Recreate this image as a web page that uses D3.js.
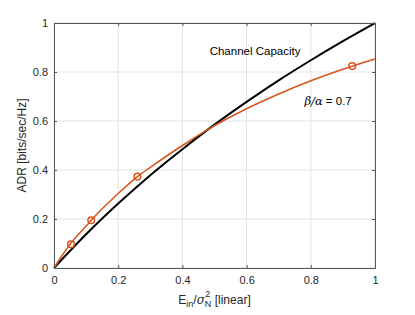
<!DOCTYPE html>
<html lang="en">
<head>
<meta charset="utf-8" />
<title>ADR vs channel capacity</title>
<style>
  body { margin: 0; background: #fff; }
  text { font-family: "Liberation Sans", Arial, sans-serif; }
</style>
<script src="https://cdn.jsdelivr.net/npm/d3@7"></script>
</head>
<body>
<script>
  // values
  var capX = [0, 0.1, 0.2, 0.3, 0.4, 0.5, 0.6, 0.7, 0.8, 0.9, 1];
  var capY = [0, 0.1375, 0.263, 0.379, 0.485, 0.585, 0.678, 0.766, 0.848, 0.926, 1];

  var adrX = [0, 0.05, 0.1, 0.116, 0.2, 0.26, 0.3, 0.4, 0.48, 0.6, 0.7, 0.8, 0.9, 0.93, 1];
  var adrY = [0, 0.097, 0.171, 0.195, 0.304, 0.373, 0.411, 0.5, 0.566, 0.65, 0.71, 0.764, 0.811, 0.824, 0.853];

  var markX = [0.053, 0.116, 0.26, 0.929];
  var markY = [0.097, 0.195, 0.373, 0.824];

  var ticks = [0, 0.2, 0.4, 0.6, 0.8, 1];
  var orange = "#D95319";

  const margin = {left: 54, right: 40, top: 23, bottom: 47};
  let width = 415 - margin.left - margin.right;
  let height = 315 - margin.top - margin.bottom;

  var svg = d3.select("body").append("svg")
      .attr("width", 415)
      .attr("height", 315);

  let plot = svg.append("g")
      .attr("transform", `translate(${margin.left}, ${margin.top})`);

  let x = d3.scaleLinear([0, 1], [0, width]);
  let y = d3.scaleLinear([0, 1], [height, 0]);

  // grid
  plot.append("g").selectAll("line").data(ticks).join("line")
      .attr("x1", d => x(d)).attr("x2", d => x(d))
      .attr("y1", 0).attr("y2", height)
      .style("stroke", "#e3e3e3");
  plot.append("g").selectAll("line").data(ticks).join("line")
      .attr("y1", d => y(d)).attr("y2", d => y(d))
      .attr("x1", 0).attr("x2", width)
      .style("stroke", "#e3e3e3");

  // curves
  let capLine = d3.line()
      .x((d, i) => x(capX[i]))
      .y(d => y(d))
      .curve(d3.curveMonotoneX);
  plot.append("path")
      .attr("d", capLine(capY))
      .style("fill", "none")
      .style("stroke", "#000")
      .style("stroke-width", 2);

  let adrLine = d3.line()
      .x((d, i) => x(adrX[i]))
      .y(d => y(d))
      .curve(d3.curveMonotoneX);
  plot.append("path")
      .attr("d", adrLine(adrY))
      .style("fill", "none")
      .style("stroke", orange)
      .style("stroke-width", 1.5);

  plot.append("g").selectAll("circle").data(markX).join("circle")
      .attr("cx", d => x(d))
      .attr("cy", (d, i) => y(markY[i]))
      .attr("r", 3.3)
      .style("fill", "none")
      .style("stroke", orange)
      .style("stroke-width", 1.5);

  // axes (box with inward ticks)
  let xAxis = d3.axisBottom(x).tickValues(ticks).tickFormat(d3.format("~g")).tickSizeInner(-3).tickSizeOuter(0).tickPadding(8);
  let yAxis = d3.axisLeft(y).tickValues(ticks).tickFormat(d3.format("~g")).tickSizeInner(-3).tickSizeOuter(0).tickPadding(6);
  let xTop = d3.axisTop(x).tickValues(ticks).tickFormat("").tickSizeInner(-3).tickSizeOuter(0);
  let yRight = d3.axisRight(y).tickValues(ticks).tickFormat("").tickSizeInner(-3).tickSizeOuter(0);

  [
    plot.append("g").attr("transform", `translate(0, ${height})`).call(xAxis),
    plot.append("g").call(yAxis),
    plot.append("g").call(xTop),
    plot.append("g").attr("transform", `translate(${width}, 0)`).call(yRight)
  ].forEach(g => {
    g.selectAll(".domain, line").style("stroke", "#555").style("stroke-width", 1);
    g.selectAll("text").style("fill", "#262626").style("font-size", "11px");
  });

  // annotations
  plot.append("text")
      .attr("x", x(0.485)).attr("y", y(0.885))
      .attr("dominant-baseline", "central")
      .style("font-size", "11.5px").style("fill", "#000")
      .text("Channel Capacity");

  let ba = plot.append("text")
      .attr("x", x(0.78)).attr("y", y(0.68))
      .attr("dominant-baseline", "central")
      .style("font-size", "11.5px").style("fill", "#000");
  ba.append("tspan").style("font-style", "italic").style("font-family", "'DejaVu Serif', serif").text("β/α");
  ba.append("tspan").text(" = 0.7");

  // axis labels
  let xl = svg.append("text")
      .attr("x", margin.left + width / 2).attr("y", 304)
      .attr("text-anchor", "middle")
      .style("font-size", "12px").style("fill", "#262626");
  xl.append("tspan").text("E");
  xl.append("tspan").attr("dy", 3).style("font-size", "9px").text("in");
  xl.append("tspan").attr("dy", -3).text("/");
  xl.append("tspan").style("font-style", "italic").style("font-family", "'DejaVu Serif', serif").text("σ");
  xl.append("tspan").attr("dy", 3).style("font-size", "9px").text("N");
  xl.append("tspan").attr("dx", -6).attr("dy", -10).style("font-size", "9px").text("2");
  xl.append("tspan").attr("dx", 1).attr("dy", 7).text(" [linear]");

  svg.append("text")
      .attr("transform", `translate(26, ${margin.top + height / 2}) rotate(-90)`)
      .attr("text-anchor", "middle")
      .style("font-size", "12px").style("fill", "#262626")
      .text("ADR [bits/sec/Hz]");
</script>
</body>
</html>
